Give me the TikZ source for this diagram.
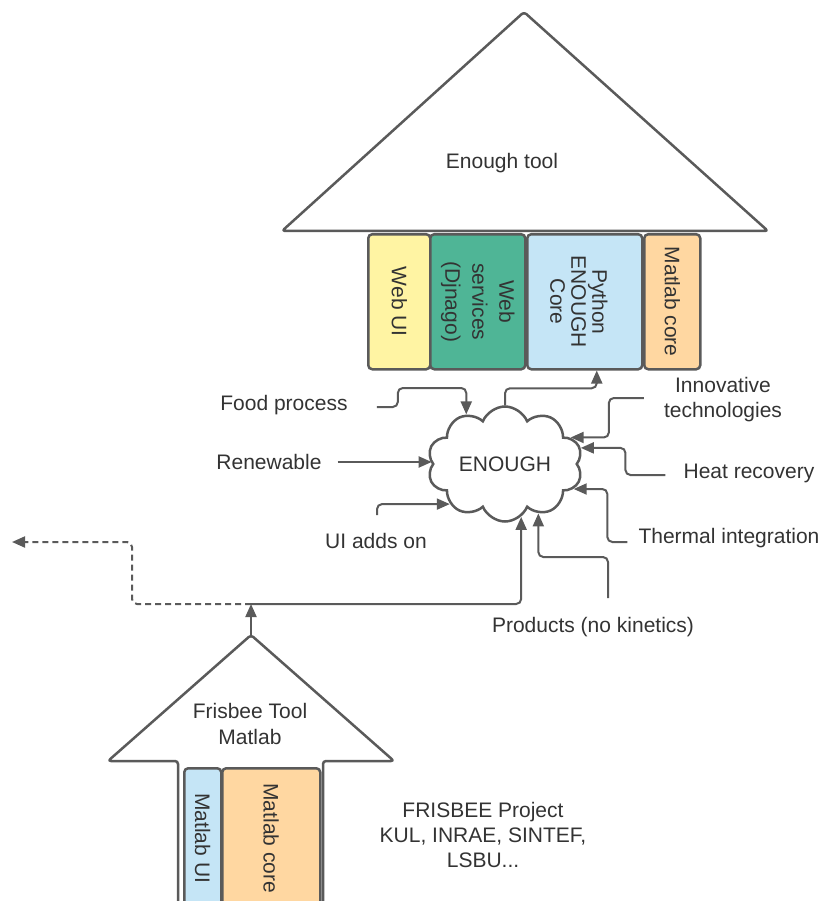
\documentclass[tikz,border=0pt]{standalone}
\usepackage{fontspec}
\setmainfont{Liberation Sans}
\usetikzlibrary{arrows.meta,shapes.symbols,calc}
\definecolor{ln}{HTML}{5A5A5A}
\definecolor{tx}{HTML}{333333}
\definecolor{cyel}{HTML}{FFF4A3}
\definecolor{cteal}{HTML}{4FB596}
\definecolor{cblue}{HTML}{C5E5F6}
\definecolor{corg}{HTML}{FFD7A1}
\begin{document}
\begin{tikzpicture}[x=1pt,y=-1pt,
  lab/.style={font=\fontsize{21}{25}\selectfont, text=tx, align=center, inner sep=0pt},
  shp/.style={draw=ln, line width=2.5pt, line join=round, rounded corners=3pt},
  comp/.style={draw=ln, line width=2.5pt, rounded corners=4pt, anchor=north west, inner sep=0pt},
  conn/.style={draw=ln, line width=2pt, rounded corners=5pt},
  arr/.style={conn, -{Triangle[length=13pt,width=11pt]}},
]
\useasboundingbox (0,0) rectangle (825,901);
\clip (0,0) rectangle (825,901);
% Enough tool house
\coordinate (ta) at (524,12);
\coordinate (tl) at (282,231);
\coordinate (tr) at (768,231);
\draw[shp, fill=white] (tl) -- (ta) -- (tr) -- cycle;
\node[lab] (etool) at (502,163) {Enough tool};
\node[comp, fill=cyel, minimum width=62pt, minimum height=135pt] (webui) at (367,233) {};
\node[comp, fill=cteal, minimum width=95pt, minimum height=135pt] (ws) at (429,233) {};
\node[comp, fill=cblue, minimum width=115pt, minimum height=135pt] (py) at (526,233) {};
\node[comp, fill=corg, minimum width=56pt, minimum height=135pt] (mc) at (643,233) {};
\node[lab, rotate=-90] at (webui.center) {Web UI};
\node[lab, rotate=-90, font=\fontsize{21}{27}\selectfont] at (ws.center) {Web\\services\\(Djnago)};
\node[lab, rotate=-90, font=\fontsize{21}{21}\selectfont] at ([xshift=-6pt]py.center) {Python\\ENOUGH\\Core};
\node[lab, rotate=-90] at (mc.center) {Matlab core};
% cloud
\node[lab, cloud, draw=ln, line width=2.5pt, cloud puffs=10, cloud puff arc=135,
  cloud ignores aspect, minimum width=155pt, minimum height=115pt] (en) at (505,464) {ENOUGH};
% labels
\node[lab] (fp) at (284,405) {Food process};
\node[lab] (rn) at (269,462) {Renewable};
\node[lab] (inn) at (723,400) {Innovative\\technologies};
\node[lab] (hr) at (749,473) {Heat recovery};
\node[lab] (ti) at (729,538) {Thermal integration};
\node[lab] (pr) at (593,627) {Products (no kinetics)};
\node[lab] (ui) at (376,541) {UI adds on};
% connectors
\draw[arr] ([xshift=29pt,yshift=-2pt]fp.east) -- ++(21,0) -- ++(0,-19) -| (en.128);
\draw[arr] (rn.east) ++(16,0) coordinate (r0) -- (r0 -| en.west);
\draw[arr] (en.north) -- ++(0,-17) -| ([xshift=12pt]py.south);
\draw[arr] ([xshift=-20pt,yshift=2pt]inn.west) -- ++(-35,0) |- (en.22);
\draw[arr] ([xshift=-18pt,yshift=-2pt]hr.west) -- ++(-40,0) |- (en.12);
\draw[arr] ([xshift=-11pt,yshift=-4pt]ti.west) -- ++(-20,0) |- (en.340);
\draw[arr] ([xshift=15pt,yshift=19pt]pr.north) -- ++(0,-41) -| (en.304);
\draw[arr] ([xshift=1pt,yshift=18pt]ui.north) |- (en.216);
% Frisbee house
\coordinate (fa) at (251,635);
\coordinate (fl) at (108,761);
\coordinate (fr) at (394,761);
\draw[shp, fill=white] (178,915) -- (178,761) -- (fl) -- (fa) -- (fr) -- (323,761) -- (323,915);
\node[lab, font=\fontsize{21}{26}\selectfont] (ft) at (250,724) {Frisbee Tool\\Matlab};
\node[comp, fill=cblue, minimum width=37pt, minimum height=140pt] (mu) at (183,767) {};
\node[comp, fill=corg, minimum width=98pt, minimum height=140pt] (mk) at (221,767) {};
\node[lab, rotate=-90] at (mu.center) {Matlab UI};
\node[lab, rotate=-90] at (mk.center) {Matlab core};
\node[lab] (fpj) at (483,835) {FRISBEE Project\\KUL, INRAE, SINTEF,\\LSBU...};
% Frisbee connectors
\coordinate (j) at (251,604);
\coordinate (dl) at (12,542);
\draw[arr] (fa) -- (j);
\draw[arr] (j) -| (en.287);
\draw[arr, dash pattern=on 6pt off 4pt] (j) -- ++(-119,0) |- (dl);
\end{tikzpicture}
\end{document}
